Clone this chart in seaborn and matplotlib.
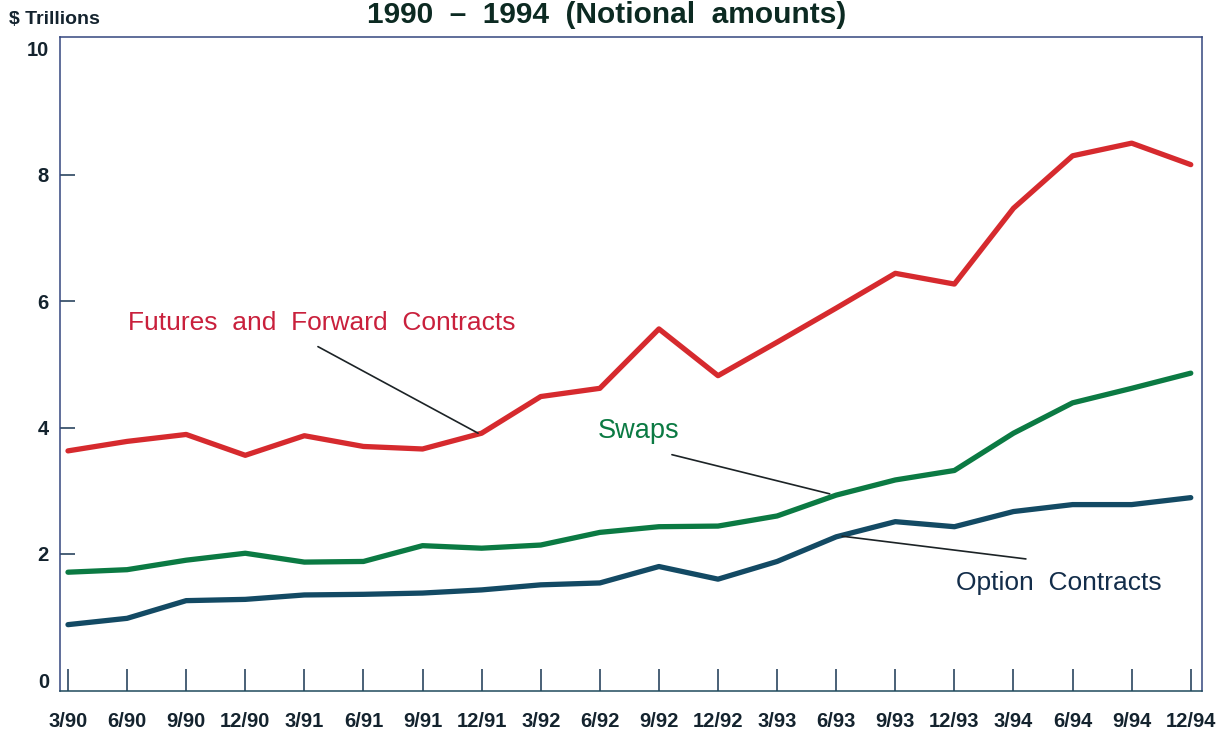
import matplotlib
matplotlib.use("Agg")
import matplotlib.pyplot as plt
import seaborn as sns
import pandas as pd

# Quarterly notional amounts outstanding, $ trillions
quarters = ["3/90", "6/90", "9/90", "12/90", "3/91", "6/91", "9/91", "12/91",
            "3/92", "6/92", "9/92", "12/92", "3/93", "6/93", "9/93", "12/93",
            "3/94", "6/94", "9/94", "12/94"]
futures_forwards = [3.63, 3.78, 3.89, 3.56, 3.87, 3.70, 3.66, 3.91,
                    4.49, 4.62, 5.56, 4.82, 5.35, 5.89, 6.44, 6.27,
                    7.47, 8.30, 8.50, 8.16]
swaps = [1.71, 1.75, 1.90, 2.01, 1.87, 1.88, 2.13, 2.09,
         2.14, 2.34, 2.43, 2.44, 2.60, 2.93, 3.17, 3.32,
         3.91, 4.39, 4.62, 4.86]
options = [0.88, 0.98, 1.26, 1.28, 1.35, 1.36, 1.38, 1.43,
           1.51, 1.54, 1.80, 1.60, 1.88, 2.27, 2.51, 2.43,
           2.67, 2.78, 2.78, 2.89]
y_ticks = [0, 2, 4, 6, 8, 10]

series_names = ["Futures and Forward Contracts", "Swaps", "Option Contracts"]
colors = {"Futures and Forward Contracts": "#d62a2e",
          "Swaps": "#0b7a43",
          "Option Contracts": "#134a64"}

rows = []
for name, vals in zip(series_names, [futures_forwards, swaps, options]):
    for i, v in enumerate(vals):
        rows.append({"idx": i, "value": v, "series": name})
df = pd.DataFrame(rows)

sns.set_theme(style="white")
plt.rcParams["font.family"] = ["Liberation Sans", "DejaVu Sans"]

fig = plt.figure(figsize=(12.25, 7.38), dpi=100)
ax = fig.add_axes([60 / 1225, 1 - 691 / 738, 1142 / 1225, 654 / 738])

sns.lineplot(data=df, x="idx", y="value", hue="series", palette=colors,
             hue_order=series_names, linewidth=3.8, legend=False, ax=ax,
             solid_joinstyle="round", solid_capstyle="round")

ax.set_xlim(-0.135, 19.19)
ax.set_ylim(-0.17, 10.18)
ax.set_xlabel("")
ax.set_ylabel("")

ax.set_xticks(range(len(quarters)))
ax.set_xticklabels(quarters)
ax.set_yticks(y_ticks)
ax.set_yticklabels([str(t) for t in y_ticks])

label_color = "#14232e"
ax.tick_params(axis="x", bottom=True, direction="in", length=16, width=1.2,
               color="#2b4560", pad=15, labelsize=14.5, labelcolor=label_color)
ax.tick_params(axis="y", left=True, direction="in", length=11, width=1.2,
               color="#2b4560", pad=8, labelsize=14.5, labelcolor=label_color)
for lab in ax.get_xticklabels() + ax.get_yticklabels():
    lab.set_fontweight("bold")
yt = ax.yaxis.get_major_ticks()
for t in (yt[0], yt[-1]):
    t.tick1line.set_visible(False)
    t.tick2line.set_visible(False)

for side, sp in ax.spines.items():
    sp.set_visible(True)
    sp.set_color("#34477e")
    sp.set_linewidth(1.1)
ax.spines["bottom"].set_color("#1f4a5c")

# Series labels with leader lines
lead = dict(arrowstyle="-", color="#1c2326", lw=1.2, shrinkA=0, shrinkB=0)
ax.annotate("", xy=(6.94, 3.91), xytext=(4.23, 5.28), arrowprops=lead)
ax.text(4.30, 5.66, "Futures  and  Forward  Contracts", color="#c9203c",
        fontsize=19, ha="center", va="center")

ax.annotate("", xy=(12.89, 2.95), xytext=(10.22, 3.57), arrowprops=lead)
ax.text(9.66, 3.95, "Swaps", color="#0b7a43", fontsize=19.5,
        ha="center", va="center")

ax.annotate("", xy=(13.10, 2.28), xytext=(16.21, 1.92), arrowprops=lead)
ax.text(16.77, 1.54, "Option  Contracts", color="#132d4a", fontsize=19,
        ha="center", va="center")

fig.text(607 / 1225, 1 - 15 / 738, "1990  –  1994  (Notional  amounts)",
         ha="center", va="center", fontsize=21.5, fontweight="bold",
         color="#0c2a22")
fig.text(9 / 1225, 1 - 19 / 738, "$ Trillions", ha="left", va="center",
         fontsize=14, fontweight="bold", color=label_color)

fig.savefig("out.png", dpi=100, facecolor="white")
